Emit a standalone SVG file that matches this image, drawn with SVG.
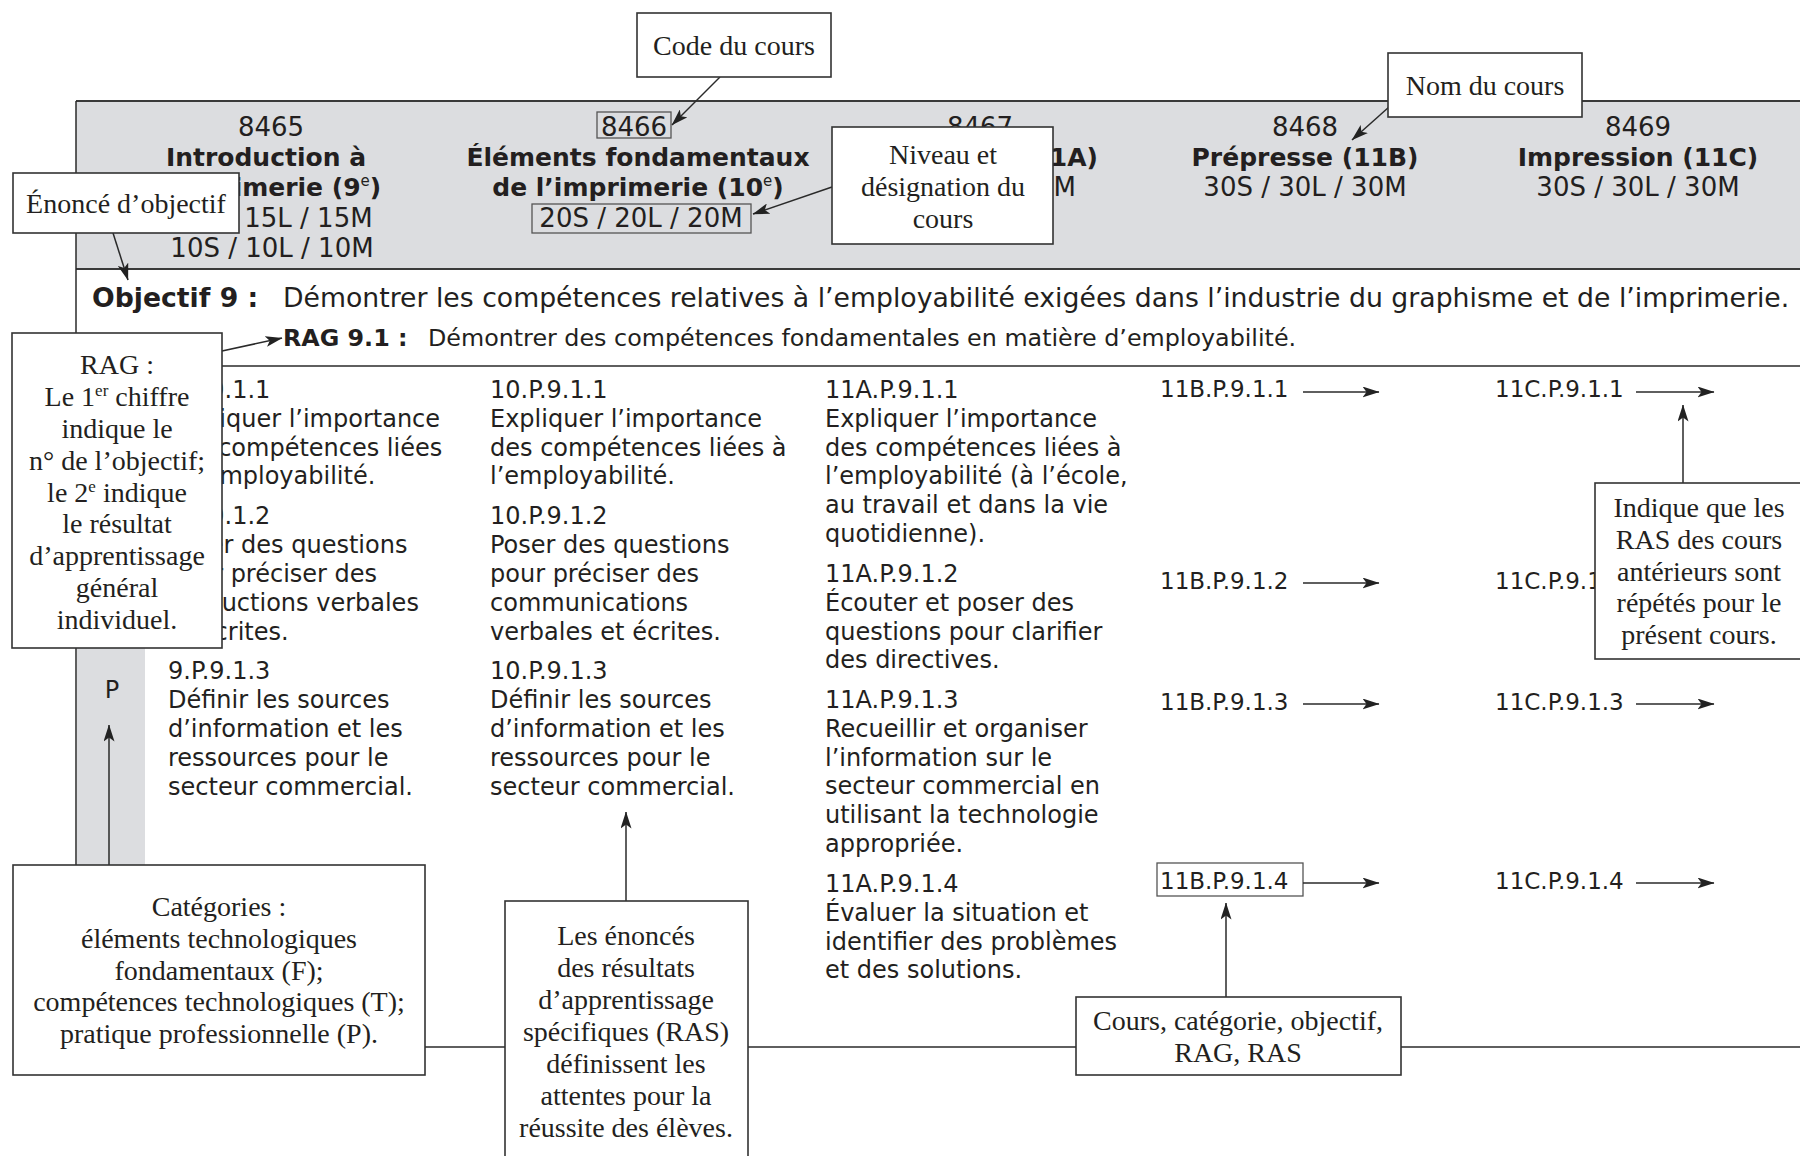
<svg xmlns="http://www.w3.org/2000/svg" width="1800" height="1156" viewBox="0 0 1800 1156">
<defs>
<style>
.s{font-family:"DejaVu Sans",Verdana,sans-serif;fill:#231f20}
.h{font-size:26px;text-anchor:middle}
.hb{font-size:25px;font-weight:bold;text-anchor:middle}
.b{font-size:24px}
.c{font-size:23px}
.o{font-size:26.7px}
.r{font-size:23.8px}
.sr{font-family:"Liberation Serif","Times New Roman",serif;font-size:28px;fill:#231f20;text-anchor:middle}
.box{fill:#fff;stroke:#333;stroke-width:1.6}
.tb{fill:none;stroke:#555;stroke-width:1.3}
.ln{stroke:#2a2a2a;stroke-width:1.5;fill:none}
.tl{stroke:#3a3a3a;stroke-width:2;fill:none}
.gray{fill:#dcdde0}
</style>
<marker id="ah" viewBox="0 0 17 11" refX="16.5" refY="5.5" markerWidth="17" markerHeight="11" markerUnits="userSpaceOnUse" orient="auto">
<path d="M0,0 L17,5.5 L0,11 L4,5.5 z" fill="#222"/>
</marker>
</defs>
<rect width="1800" height="1156" fill="#fff"/>

<g id="table">
<rect class="gray" x="76" y="101" width="1730" height="168"/>
<rect class="gray" x="77" y="367" width="68" height="498"/>
<line class="tl" x1="76" y1="101" x2="1800" y2="101"/>
<line class="tl" x1="76" y1="269" x2="1800" y2="269"/>
<line class="ln" x1="76" y1="366" x2="1800" y2="366"/>
<line class="ln" x1="76" y1="101" x2="76" y2="866"/>
<line class="ln" x1="76" y1="1047" x2="1800" y2="1047"/>
</g>

<g id="course-8465" class="s">
<text class="h" x="271" y="136">8465</text>
<text class="hb" x="266" y="166">Introduction à</text>
<text class="hb" x="266" y="196">l’imprimerie (9<tspan font-size="15" font-weight="normal" dy="-10">e</tspan><tspan dy="10">)</tspan></text>
<text class="h" x="271" y="227">15S / 15L / 15M</text>
<text class="h" x="272" y="257">10S / 10L / 10M</text>
</g>
<g id="course-8466" class="s">
<text class="h" x="634" y="136">8466</text>
<rect class="tb" x="597" y="112" width="74" height="26"/>
<text class="hb" x="638" y="166">Éléments fondamentaux</text>
<text class="hb" x="638" y="196">de l’imprimerie (10<tspan font-size="15" font-weight="normal" dy="-10">e</tspan><tspan dy="10">)</tspan></text>
<text class="h" x="641" y="227">20S / 20L / 20M</text>
<rect class="tb" x="532" y="204" width="219" height="29"/>
</g>
<g id="course-8467" class="s">
<text class="h" x="980" y="136">8467</text>
<text class="hb" x="1098" y="166" style="text-anchor:end">(11A)</text>
<text class="h" x="1076" y="196" style="text-anchor:end">30S / 30L / 30M</text>
</g>
<g id="course-8468" class="s">
<text class="h" x="1305" y="136">8468</text>
<text class="hb" x="1305" y="166">Prépresse (11B)</text>
<text class="h" x="1305" y="196">30S / 30L / 30M</text>
</g>
<g id="course-8469" class="s">
<text class="h" x="1638" y="136">8469</text>
<text class="hb" x="1638" y="166">Impression (11C)</text>
<text class="h" x="1638" y="196">30S / 30L / 30M</text>
</g>

<g id="objectif" class="s">
<text class="o" x="92" y="307"><tspan font-weight="bold">Objectif 9 :</tspan><tspan x="283">Démontrer les compétences relatives à l’employabilité exigées dans l’industrie du graphisme et de l’imprimerie.</tspan></text>
</g>
<g id="rag" class="s">
<text class="r" x="283" y="346"><tspan font-weight="bold">RAG 9.1 :</tspan><tspan x="428">Démontrer des compétences fondamentales en matière d’employabilité.</tspan></text>
</g>
<g id="categorie-p" class="s">
<text class="b" x="112" y="698" text-anchor="middle">P</text>
</g>

<g id="ras-9" class="s b">
<text x="168" y="398">9.P.9.1.1</text>
<text x="168" y="427">Expliquer l’importance</text>
<text x="168" y="456">des compétences liées</text>
<text x="168" y="484">à l’employabilité.</text>
<text x="168" y="524">9.P.9.1.2</text>
<text x="168" y="553">Poser des questions</text>
<text x="168" y="582">pour préciser des</text>
<text x="168" y="611">instructions verbales</text>
<text x="168" y="640">et écrites.</text>
<text x="168" y="679">9.P.9.1.3</text>
<text x="168" y="708">Définir les sources</text>
<text x="168" y="737">d’information et les</text>
<text x="168" y="766">ressources pour le</text>
<text x="168" y="795">secteur commercial.</text>
</g>
<g id="ras-10" class="s b">
<text x="490" y="398">10.P.9.1.1</text>
<text x="490" y="427">Expliquer l’importance</text>
<text x="490" y="456">des compétences liées à</text>
<text x="490" y="484">l’employabilité.</text>
<text x="490" y="524">10.P.9.1.2</text>
<text x="490" y="553">Poser des questions</text>
<text x="490" y="582">pour préciser des</text>
<text x="490" y="611">communications</text>
<text x="490" y="640">verbales et écrites.</text>
<text x="490" y="679">10.P.9.1.3</text>
<text x="490" y="708">Définir les sources</text>
<text x="490" y="737">d’information et les</text>
<text x="490" y="766">ressources pour le</text>
<text x="490" y="795">secteur commercial.</text>
</g>
<g id="ras-11a" class="s b">
<text x="825" y="398">11A.P.9.1.1</text>
<text x="825" y="427">Expliquer l’importance</text>
<text x="825" y="456">des compétences liées à</text>
<text x="825" y="484">l’employabilité (à l’école,</text>
<text x="825" y="513">au travail et dans la vie</text>
<text x="825" y="542">quotidienne).</text>
<text x="825" y="582">11A.P.9.1.2</text>
<text x="825" y="611">Écouter et poser des</text>
<text x="825" y="640">questions pour clarifier</text>
<text x="825" y="668">des directives.</text>
<text x="825" y="708">11A.P.9.1.3</text>
<text x="825" y="737">Recueillir et organiser</text>
<text x="825" y="766">l’information sur le</text>
<text x="825" y="794">secteur commercial en</text>
<text x="825" y="823">utilisant la technologie</text>
<text x="825" y="852">appropriée.</text>
<text x="825" y="892">11A.P.9.1.4</text>
<text x="825" y="921">Évaluer la situation et</text>
<text x="825" y="950">identifier des problèmes</text>
<text x="825" y="978">et des solutions.</text>
</g>
<g id="ras-11b" class="s c">
<text x="1160" y="397">11B.P.9.1.1</text>
<text x="1160" y="589">11B.P.9.1.2</text>
<text x="1160" y="710">11B.P.9.1.3</text>
<text x="1160" y="889">11B.P.9.1.4</text>
<rect class="tb" x="1157" y="863" width="146" height="33"/>
</g>
<g id="ras-11c" class="s c">
<text x="1495" y="397">11C.P.9.1.1</text>
<text x="1495" y="589">11C.P.9.1.2</text>
<text x="1495" y="710">11C.P.9.1.3</text>
<text x="1495" y="889">11C.P.9.1.4</text>
</g>

<g id="connectors" class="ln">
<line x1="1303" y1="392" x2="1379" y2="392" marker-end="url(#ah)"/>
<line x1="1303" y1="583" x2="1379" y2="583" marker-end="url(#ah)"/>
<line x1="1303" y1="704" x2="1379" y2="704" marker-end="url(#ah)"/>
<line x1="1303" y1="883" x2="1379" y2="883" marker-end="url(#ah)"/>
<line x1="1636" y1="392" x2="1714" y2="392" marker-end="url(#ah)"/>
<line x1="1636" y1="583" x2="1714" y2="583" marker-end="url(#ah)"/>
<line x1="1636" y1="704" x2="1714" y2="704" marker-end="url(#ah)"/>
<line x1="1636" y1="883" x2="1714" y2="883" marker-end="url(#ah)"/>
<line x1="720" y1="77" x2="672" y2="125" marker-end="url(#ah)"/>
<line x1="1389" y1="107" x2="1352" y2="140" marker-end="url(#ah)"/>
<line x1="832" y1="187" x2="753" y2="214" marker-end="url(#ah)"/>
<line x1="113" y1="233" x2="128" y2="280" marker-end="url(#ah)"/>
<line x1="222" y1="351" x2="282" y2="338" marker-end="url(#ah)"/>
<line x1="109" y1="865" x2="109" y2="725" marker-end="url(#ah)"/>
<line x1="626" y1="901" x2="626" y2="812" marker-end="url(#ah)"/>
<line x1="1226" y1="997" x2="1226" y2="903" marker-end="url(#ah)"/>
<line x1="1683" y1="483" x2="1683" y2="405" marker-end="url(#ah)"/>
</g>

<g id="callout-code">
<rect class="box" x="637" y="13" width="194" height="64"/>
<text class="sr" x="734" y="55">Code du cours</text>
</g>
<g id="callout-nom">
<rect class="box" x="1388" y="53" width="194" height="64"/>
<text class="sr" x="1485" y="95">Nom du cours</text>
</g>
<g id="callout-niveau">
<rect class="box" x="832" y="127" width="221" height="117"/>
<text class="sr" x="943" y="164">Niveau et</text>
<text class="sr" x="943" y="196">désignation du</text>
<text class="sr" x="943" y="228">cours</text>
</g>
<g id="callout-enonce">
<rect class="box" x="13" y="173" width="226" height="60"/>
<text class="sr" x="126" y="213">Énoncé d’objectif</text>
</g>
<g id="callout-rag">
<rect class="box" x="12" y="333" width="210" height="315"/>
<text class="sr" x="117" y="374">RAG :</text>
<text class="sr" x="117" y="406">Le 1<tspan font-size="17" dy="-10">er</tspan><tspan dy="10"> chiffre</tspan></text>
<text class="sr" x="117" y="438">indique le</text>
<text class="sr" x="117" y="470">n° de l’objectif;</text>
<text class="sr" x="117" y="502">le 2<tspan font-size="17" dy="-10">e</tspan><tspan dy="10"> indique</tspan></text>
<text class="sr" x="117" y="533">le résultat</text>
<text class="sr" x="117" y="565">d’apprentissage</text>
<text class="sr" x="117" y="597">général</text>
<text class="sr" x="117" y="629">individuel.</text>
</g>
<g id="callout-categories">
<rect class="box" x="13" y="865" width="412" height="210"/>
<text class="sr" x="219" y="916">Catégories :</text>
<text class="sr" x="219" y="948">éléments technologiques</text>
<text class="sr" x="219" y="980">fondamentaux (F);</text>
<text class="sr" x="219" y="1011">compétences technologiques (T);</text>
<text class="sr" x="219" y="1043">pratique professionnelle (P).</text>
</g>
<g id="callout-ras">
<rect class="box" x="505" y="901" width="243" height="270"/>
<text class="sr" x="626" y="945">Les énoncés</text>
<text class="sr" x="626" y="977">des résultats</text>
<text class="sr" x="626" y="1009">d’apprentissage</text>
<text class="sr" x="626" y="1041">spécifiques (RAS)</text>
<text class="sr" x="626" y="1073">définissent les</text>
<text class="sr" x="626" y="1105">attentes pour la</text>
<text class="sr" x="626" y="1137">réussite des élèves.</text>
</g>
<g id="callout-cours">
<rect class="box" x="1076" y="997" width="325" height="78"/>
<text class="sr" x="1238" y="1030">Cours, catégorie, objectif,</text>
<text class="sr" x="1238" y="1062">RAG, RAS</text>
</g>
<g id="callout-indique">
<rect class="box" x="1595" y="483" width="220" height="176"/>
<text class="sr" x="1699" y="517">Indique que les</text>
<text class="sr" x="1699" y="549">RAS des cours</text>
<text class="sr" x="1699" y="581">antérieurs sont</text>
<text class="sr" x="1699" y="612">répétés pour le</text>
<text class="sr" x="1699" y="644">présent cours.</text>
</g>
</svg>
